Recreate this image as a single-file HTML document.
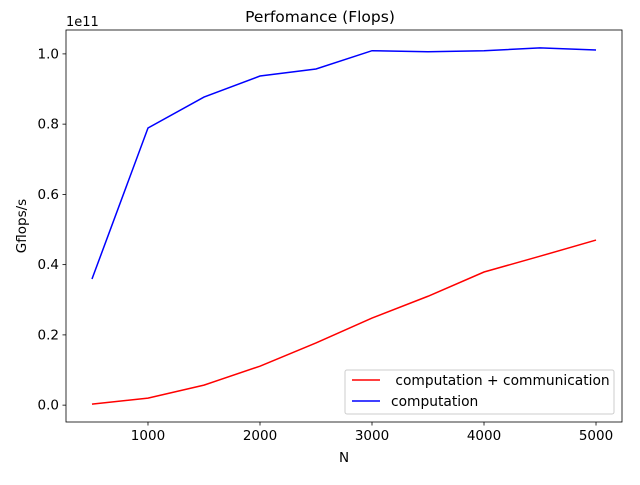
<!DOCTYPE html>
<html><head><meta charset="utf-8"><style>
body{margin:0;background:#fff;font-family:"Liberation Sans","DejaVu Sans",sans-serif}
svg text{font-family:"DejaVu Sans","Liberation Sans",sans-serif;font-size:13.5px;fill:#000}
</style></head><body>
<svg id="chart" width="640" height="480">
<rect width="640" height="480" fill="#fff"/>
<text x="320" y="22" text-anchor="middle" style="font-size:15.5px">Perfomance (Flops)</text>
<text x="66" y="26" style="font-size:13px">1e11</text>
<text x="344" y="462" text-anchor="middle">N</text>
<text transform="translate(26,226) rotate(-90)" text-anchor="middle">Gflops/s</text>
<g id="ticks"></g>
<g id="series"></g>
<rect x="66" y="30" width="556" height="392" fill="none" stroke="#000" stroke-width="0.8"/>
<g>
<rect x="345" y="370" width="269" height="44" rx="2" fill="#fff" fill-opacity="0.8" stroke="#ccc"/>
<g><line x1="352" y1="380" x2="380" y2="380" stroke="red" stroke-width="1.5"/><text x="391" y="385" style="font-size:13.8px">&#160;computation + communication</text></g>
<g><line x1="352" y1="401" x2="380" y2="401" stroke="blue" stroke-width="1.5"/><text x="391" y="406" style="font-size:13.8px">computation</text></g>
</g>
</svg>
<script>
const nValues=[500,1000,1500,2000,2500,3000,3500,4000,4500,5000];
const commValues=[0.003,0.02,0.057,0.111,0.177,0.248,0.31,0.379,0.424,0.47];
const compValues=[0.359,0.789,0.877,0.937,0.957,1.009,1.006,1.009,1.017,1.011];
const xTicks=[1000,2000,3000,4000,5000];
const yTicks=[0,0.2,0.4,0.6,0.8,1.0];
const yTickLabels=["0.0","0.2","0.4","0.6","0.8","1.0"];
const L=66,R=622,T=30,B=422,x0=268,x1=5232,y0=-0.048,y1=1.068;
const sx=v=>L+(v-x0)/(x1-x0)*(R-L);
const sy=v=>B-(v-y0)/(y1-y0)*(B-T);
const NS="http://www.w3.org/2000/svg";
const tg=document.getElementById('ticks'),sg=document.getElementById('series');
function mk(t,a,p){const e=document.createElementNS(NS,t);for(const k in a)e.setAttribute(k,a[k]);p.appendChild(e);return e;}
xTicks.forEach(v=>{const x=sx(v);
const l=mk('line',{x1:x,x2:x,y1:B,y2:B+3.5,stroke:'#000','stroke-width':0.8},tg);


const t=mk('text',{x:x,y:B+18,'text-anchor':'middle'},tg);t.textContent=v;

});
yTicks.forEach((v,i)=>{const y=sy(v);
const l=mk('line',{x1:L-3.5,x2:L,y1:y,y2:y,stroke:'#000','stroke-width':0.8},tg);


const t=mk('text',{x:L-7,y:y+4.5,'text-anchor':'end'},tg);t.textContent=yTickLabels[i];

});
function line(vals,color,name){const p=mk('polyline',{points:vals.map((v,i)=>sx(nValues[i])+','+sy(v)).join(' '),fill:'none',stroke:color,'stroke-width':1.5},sg);

}
line(commValues,'red','comm-line');
line(compValues,'blue','comp-line');
</script>
</body></html>
